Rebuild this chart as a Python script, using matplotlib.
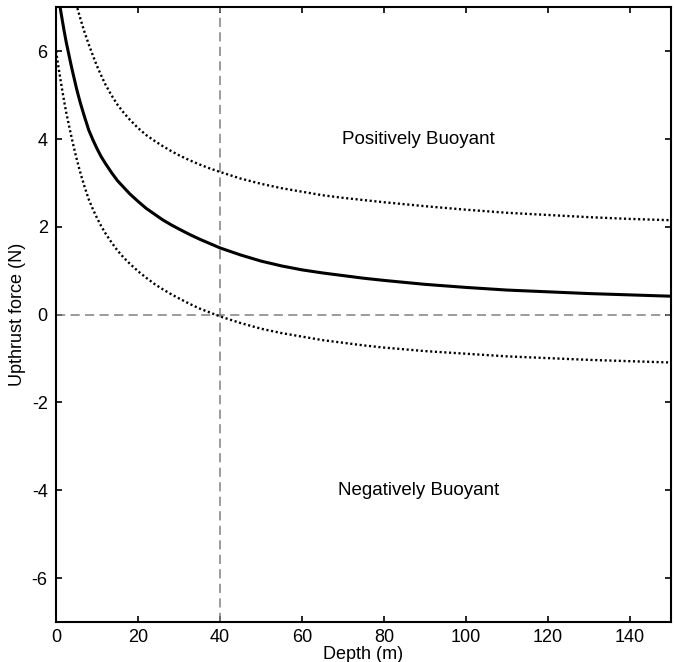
import matplotlib
matplotlib.use('Agg')
import matplotlib.pyplot as plt

# depth (m) and upthrust force (N)
depth_mid = [0.5, 1, 1.5, 2, 2.5, 3, 3.5, 4, 4.5, 5, 5.5, 6, 7, 8, 9, 10, 11, 12, 13.5,
             15, 16.5, 18, 20, 22, 24, 26, 28, 30, 32.5, 35, 37.5, 40, 45, 50, 55, 60,
             65, 70, 75, 80, 90, 100, 110, 120, 130, 140, 150]
force_mid = [7.3, 7.0, 6.72, 6.45, 6.2, 5.98, 5.76, 5.55, 5.35, 5.15, 4.97, 4.8, 4.49,
             4.2, 3.98, 3.78, 3.6, 3.45, 3.24, 3.05, 2.9, 2.75, 2.58, 2.42, 2.29, 2.16,
             2.05, 1.95, 1.83, 1.72, 1.62, 1.52, 1.36, 1.22, 1.11, 1.02, 0.95, 0.89,
             0.83, 0.78, 0.69, 0.62, 0.56, 0.52, 0.48, 0.45, 0.42]

depth_hi = [4, 5, 6, 7, 8, 9, 10, 11, 12, 13.5, 15, 16.5, 18, 20, 22, 24, 26, 28, 30,
            32.5, 35, 37.5, 40, 45, 50, 55, 60, 65, 70, 75, 80, 90, 100, 110, 120,
            130, 140, 150]
force_hi = [7.4, 7.05, 6.72, 6.42, 6.15, 5.9, 5.66, 5.45, 5.25, 5.0, 4.78, 4.6, 4.44,
            4.25, 4.09, 3.96, 3.84, 3.73, 3.63, 3.52, 3.42, 3.33, 3.25, 3.1, 2.98, 2.88,
            2.8, 2.72, 2.66, 2.61, 2.56, 2.47, 2.39, 2.32, 2.27, 2.22, 2.18, 2.15]

depth_lo = [0, 0.5, 1, 1.5, 2, 2.5, 3, 3.5, 4, 4.5, 5, 5.5, 6, 7, 8, 9, 10, 11, 12,
            13.5, 15, 16.5, 18, 20, 22, 24, 26, 28, 30, 32.5, 35, 37.5, 40, 45, 50, 55,
            60, 65, 70, 75, 80, 90, 100, 110, 120, 130, 140, 150]
force_lo = [6.0, 5.7, 5.4, 5.12, 4.85, 4.6, 4.38, 4.16, 3.95, 3.75, 3.56, 3.38, 3.21,
            2.9, 2.62, 2.4, 2.2, 2.02, 1.86, 1.65, 1.46, 1.3, 1.16, 0.99, 0.84, 0.7,
            0.58, 0.47, 0.37, 0.25, 0.14, 0.05, -0.04, -0.19, -0.32, -0.42, -0.5,
            -0.58, -0.64, -0.7, -0.75, -0.83, -0.89, -0.95, -0.99, -1.03, -1.06, -1.09]

critical_depth = 40

plt.rcParams['font.family'] = ['Liberation Sans', 'DejaVu Sans']
plt.rcParams['axes.unicode_minus'] = False

fig = plt.figure(figsize=(6.75, 6.62), dpi=100)
ax = fig.add_axes([0.083, 0.0604, 0.911, 0.9286])

ax.axhline(0, color='#808080', lw=1.1, dashes=(6, 3.5))
ax.axvline(critical_depth, color='#808080', lw=1.1, dashes=(6, 3.5))

ax.plot(depth_mid, force_mid, color='black', lw=2.2)
ax.plot(depth_hi, force_hi, color='black', lw=1.7, dashes=(0.9, 1.1))
ax.plot(depth_lo, force_lo, color='black', lw=1.7, dashes=(0.9, 1.1))

ax.text(88.5, 4, 'Positively Buoyant', ha='center', va='center', fontsize=13.5)
ax.text(88.5, -4, 'Negatively Buoyant', ha='center', va='center', fontsize=13.5)

ax.set_xlim(0, 150)
ax.set_ylim(-7, 7)
ax.set_xticks(range(0, 141, 20))
ax.set_yticks(range(-6, 7, 2))
ax.tick_params(direction='in', length=4, width=1.2, top=True, right=True,
               labelsize=13)
ax.tick_params(axis='x', pad=5)
ax.tick_params(axis='y', pad=6)
for s in ax.spines.values():
    s.set_linewidth(1.5)

ax.set_xlabel('Depth (m)', fontsize=13, labelpad=0)
ax.set_ylabel('Upthrust force (N)', fontsize=13, labelpad=4)

fig.savefig('out.png', dpi=100)
